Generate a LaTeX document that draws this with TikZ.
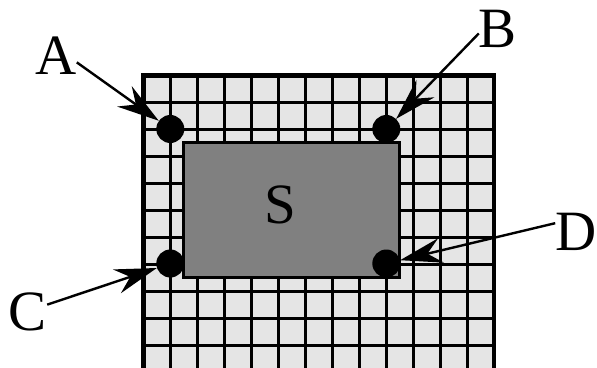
\documentclass[tikz,border=0pt]{standalone}
\usepackage{fontspec}
\setmainfont{Liberation Serif}
\usetikzlibrary{arrows.meta}
\definecolor{gridfill}{RGB}{229,229,229}
\definecolor{rectgray}{RGB}{128,128,128}
\begin{document}
\begin{tikzpicture}[x=1pt,y=-1pt,
  lbl/.style={inner sep=0pt, font=\fontsize{57}{57}\selectfont},
  dotnode/.style={circle, fill=black, minimum size=28pt, inner sep=0pt},
  gridline/.style={line width=2.6pt},
  pointer/.style={line width=2.4pt, -{Stealth[length=42pt,width=25pt,inset=14pt]}}]
\useasboundingbox (0,0) rectangle (597,367);
\clip (0,0) rectangle (597,367);
% grid
\fill[gridfill] (143.3,75.3) rectangle (494,380);
\foreach \k in {1,...,12} \draw[gridline] ({143.3+27*\k},75.3) -- ({143.3+27*\k},380);
\foreach \k in {1,...,10} \draw[gridline] (143.3,{75.3+27*\k}) -- (494,{75.3+27*\k});
\draw[line width=4.5pt, line join=miter] (143.3,380) -- (143.3,75.3) -- (494,75.3) -- (494,380);
% region S
\draw[line width=3pt, fill=rectgray] (183.8,142.8) rectangle (399.8,277.8);
\node[lbl] (lS) at (280,205) {S};
% corner dots
\node[dotnode] (dA) at (170.3,129) {};
\node[dotnode] (dB) at (386.3,129) {};
\node[dotnode] (dC) at (170.3,263.5) {};
\node[dotnode] (dD) at (386.3,263.5) {};
% labels
\node[lbl] (lA) at (56,56) {A};
\node[lbl] (lB) at (498,29) {B};
\node[lbl] (lC) at (28,312) {C};
\node[lbl] (lD) at (576,232) {D};
% pointers
\draw[pointer] (lA.343) -- (dA);
\draw[pointer] (lB.193) -- (dB);
\draw[pointer] (lC.21) -- (dC);
\draw[pointer] (lD.157) -- (dD);
\end{tikzpicture}
\end{document}
